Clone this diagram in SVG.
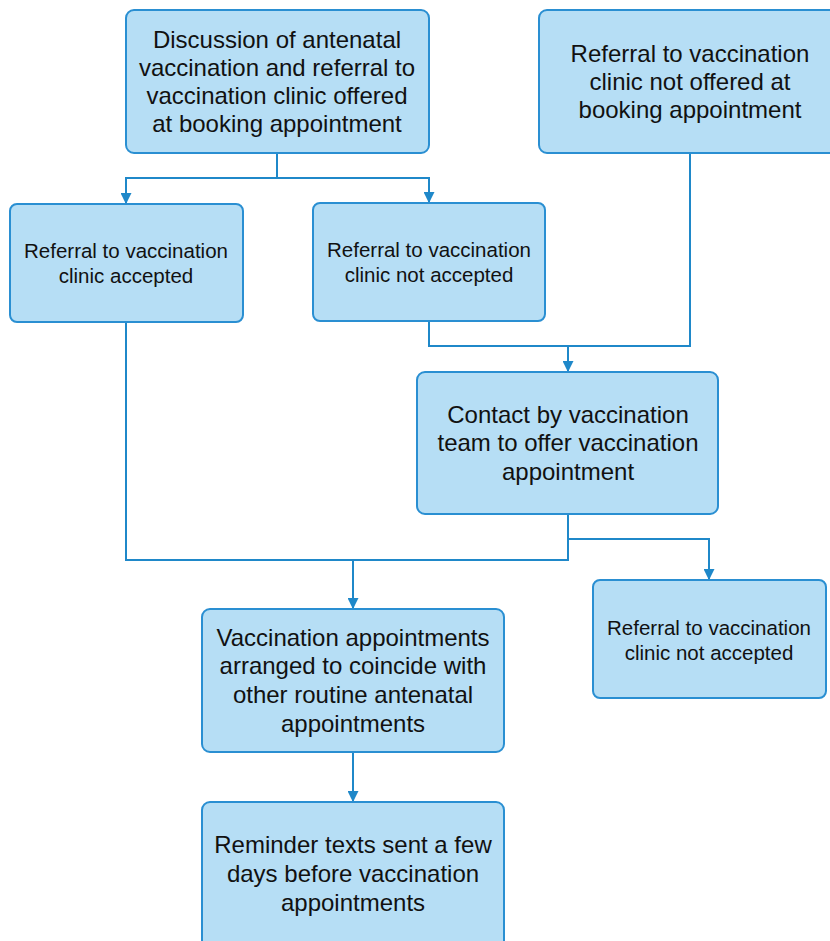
<svg xmlns="http://www.w3.org/2000/svg" width="830" height="941" viewBox="0 0 830 941">
<style>
.box{fill:#b6def5;stroke:#2a8fd2;stroke-width:2}
.t{font-family:"Liberation Sans",Arial,sans-serif;fill:#111;text-anchor:middle}
.l{font-size:24px}
.s{font-size:20.5px}
.c{fill:none;stroke:#1f88c9;stroke-width:2}
</style>
<defs>
<marker id="ah" viewBox="0 0 10 10" refX="9" refY="5" markerWidth="11" markerHeight="11" markerUnits="userSpaceOnUse" orient="auto">
<path d="M0,0 L10,5 L0,10 z" fill="#1f88c9"/>
</marker>
</defs>
<rect width="830" height="941" fill="#fff"/>
<g id="connectors">
<path class="c" d="M277,153 V178 H126 V203" marker-end="url(#ah)"/>
<path class="c" d="M277,178 H429 V202" marker-end="url(#ah)"/>
<path class="c" d="M690,153 V346 H568"/>
<path class="c" d="M429,321 V346 H568 V371" marker-end="url(#ah)"/>
<path class="c" d="M126,322 V560 H568 V514"/>
<path class="c" d="M353,560 V608" marker-end="url(#ah)"/>
<path class="c" d="M568,539 H709 V579" marker-end="url(#ah)"/>
<path class="c" d="M353,752 V801" marker-end="url(#ah)"/>
</g>
<g id="n1"><rect class="box" x="126" y="10" width="303" height="143" rx="8"/>
<text class="t l" x="277" y="48">Discussion of antenatal</text>
<text class="t l" x="277" y="76">vaccination and referral to</text>
<text class="t l" x="277" y="104">vaccination clinic offered</text>
<text class="t l" x="277" y="132">at booking appointment</text></g>
<g id="n2"><rect class="box" x="539" y="10" width="300" height="143" rx="8"/>
<text class="t l" x="690" y="62">Referral to vaccination</text>
<text class="t l" x="690" y="90">clinic not offered at</text>
<text class="t l" x="690" y="118">booking appointment</text></g>
<g id="n3"><rect class="box" x="10" y="204" width="233" height="118" rx="7"/>
<text class="t s" x="126" y="258">Referral to vaccination</text>
<text class="t s" x="126" y="283">clinic accepted</text></g>
<g id="n4"><rect class="box" x="313" y="203" width="232" height="118" rx="7"/>
<text class="t s" x="429" y="257">Referral to vaccination</text>
<text class="t s" x="429" y="282">clinic not accepted</text></g>
<g id="n5"><rect class="box" x="417" y="372" width="301" height="142" rx="8"/>
<text class="t l" x="568" y="423">Contact by vaccination</text>
<text class="t l" x="568" y="451">team to offer vaccination</text>
<text class="t l" x="568" y="480">appointment</text></g>
<g id="n6"><rect class="box" x="593" y="580" width="233" height="118" rx="7"/>
<text class="t s" x="709" y="635">Referral to vaccination</text>
<text class="t s" x="709" y="660">clinic not accepted</text></g>
<g id="n7"><rect class="box" x="202" y="609" width="302" height="143" rx="8"/>
<text class="t l" x="353" y="646">Vaccination appointments</text>
<text class="t l" x="353" y="674">arranged to coincide with</text>
<text class="t l" x="353" y="703">other routine antenatal</text>
<text class="t l" x="353" y="732">appointments</text></g>
<g id="n8"><rect class="box" x="202" y="802" width="302" height="150" rx="8"/>
<text class="t l" x="353" y="853">Reminder texts sent a few</text>
<text class="t l" x="353" y="882">days before vaccination</text>
<text class="t l" x="353" y="911">appointments</text></g>
</svg>
